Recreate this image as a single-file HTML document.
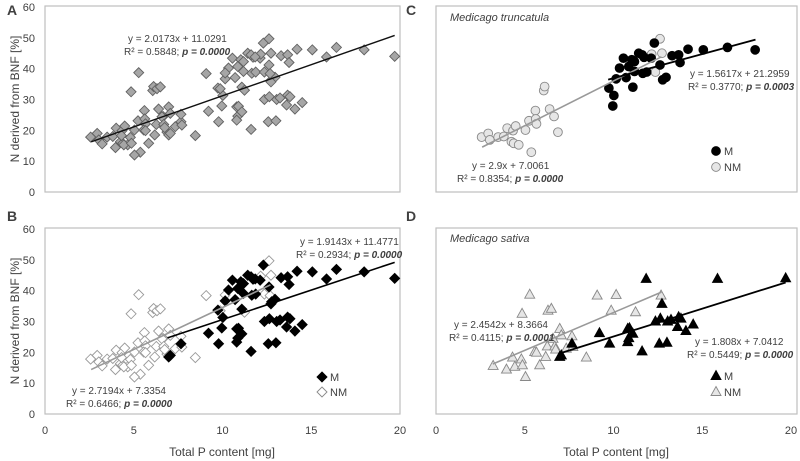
<!DOCTYPE html>
<html><head><meta charset="utf-8"><style>
body{margin:0;background:#fff;width:800px;height:461px;overflow:hidden}
svg{display:block;font-family:"Liberation Sans",sans-serif}
text{fill:#404040}
</style></head><body>
<svg id="chart" width="800" height="461" viewBox="0 0 800 461" xmlns="http://www.w3.org/2000/svg"></svg>
<script>
// Medicago truncatula
const mtM_x=[9.74,10.02,9.96,10.56,10.34,10.71,11.09,11.03,11.18,10.86,11.42,11.72,11.65,11.87,12.30,12.62,12.77,12.96,13.3,13.67,13.75,14.2,15.06,16.42,17.98,10.15,11.18,11.61,12.12];
const mtM_y=[33.7,31.3,27.9,43.4,40.2,37.1,34.0,42.9,42.3,40.7,45.0,43.7,38.5,38.9,48.3,41.2,36.4,37.2,44.2,44.5,42.0,46.3,46.1,46.9,46.1,36.7,39.1,44.5,43.4];
const mtNM_x=[2.57,2.94,3.03,3.5,3.82,4.01,4.34,4.49,4.25,4.38,4.66,5.04,5.24,5.37,5.6,5.62,5.66,6.07,6.12,6.4,6.65,6.87,12.15,12.62,12.73,12.36];
const mtNM_y=[17.8,19.0,16.9,17.8,18.0,20.7,19.9,21.4,16.3,15.8,15.3,20.1,23.1,12.9,26.4,23.7,22.1,32.9,34.2,26.9,24.5,19.4,44.7,49.7,45.0,38.9];
// Medicago sativa
const msM_x=[11.84,15.86,19.7,12.73,12.36,12.64,13.05,13.24,13.67,13.8,13.61,14.08,14.49,9.21,9.78,10.8,10.9,10.86,11.09,10.8,11.61,12.58,13.01,7.66,6.97,7.06];
const msM_y=[43.8,43.8,44.0,35.7,30.0,30.9,30.0,30.5,31.4,30.9,28.2,26.9,29.0,26.2,22.8,27.6,27.8,24.6,26.0,23.3,20.3,22.8,23.1,22.8,18.5,19.0];
const msNM_x=[5.28,4.85,5.04,3.22,3.97,4.44,4.31,4.81,4.87,5.56,5.66,5.84,6.18,6.27,6.31,6.5,6.59,6.69,6.74,6.97,7.06,7.66,7.34,7.71,8.47,9.08,10.15,9.87,11.24,12.68];
const msNM_y=[38.7,32.5,12.0,15.6,14.4,15.3,18.3,17.7,15.8,20.1,19.9,15.8,18.5,21.9,33.5,34.1,24.4,21.9,20.9,27.6,25.5,25.2,21.2,21.7,18.3,38.4,38.6,33.5,33.0,38.4];
// regression lines [slope, intercept, xStart, xEnd]
const fitA=[2.0173,11.0291,2.6,19.7];
const fitBM=[1.9143,11.4771,6.9,19.7];
const fitBNM=[2.7194,7.3354,2.6,12.7];
const fitCM=[1.5617,21.2959,9.7,18.0];
const fitCNM=[2.9,7.0061,2.6,12.7];
const fitDM=[1.808,7.0412,7.0,19.7];
const fitDNM=[2.4542,8.3664,3.2,12.7];
const yTicks=[0,10,20,30,40,50,60];
const xTicks=[0,5,10,15,20];

const NS="http://www.w3.org/2000/svg";
const svg=document.getElementById('chart');
function mk(tag,attrs,parent,txt){const e=document.createElementNS(NS,tag);for(const k in attrs)e.setAttribute(k,attrs[k]);if(txt!==undefined)e.textContent=txt;(parent||svg).appendChild(e);return e;}

const panels={
 A:{l:45,r:400,t:6,b:192},
 B:{l:45,r:400,t:228,b:414},
 C:{l:436,r:797,t:6,b:192},
 D:{l:436,r:797,t:228,b:414}
};
function sx(p,v){return p.l+v/20*355;}
function sy(p,v){return p.b-v/60*(p.b-p.t-1);}

function frame(p,name,showY,showX){
  const g=mk('g',{});
  
  
  const r=mk('rect',{x:p.l,y:p.t,width:p.r-p.l,height:p.b-p.t,fill:'#fff',stroke:'#bfbfbf','stroke-width':1.2},g);
  
  
  if(showY){yTicks.forEach(v=>{const t=mk('text',{x:p.l-10,y:sy(p,v)+4,'text-anchor':'end','font-size':11},g,String(v));
    
    });}
  if(showX){xTicks.forEach(v=>{const t=mk('text',{x:sx(p,v),y:434,'text-anchor':'middle','font-size':11},g,String(v));
    
    });}
  return g;
}
function line(p,g,f,color,w){
  const l=mk('line',{x1:sx(p,f[2]),y1:sy(p,f[0]*f[2]+f[1]),x2:sx(p,f[3]),y2:sy(p,f[0]*f[3]+f[1]),stroke:color,'stroke-width':w||1.6},g);
  
  
}
function marker(g,shape,x,y,fill,stroke){
  let e;
  if(shape==='d') e=mk('polygon',{points:`${x},${y-5} ${x+5},${y} ${x},${y+5} ${x-5},${y}`,fill:fill,stroke:stroke,'stroke-width':0.9},g);
  else if(shape==='c') e=mk('circle',{cx:x,cy:y,r:4.4,fill:fill,stroke:stroke,'stroke-width':0.9},g);
  else e=mk('polygon',{points:`${x},${y-5.5} ${x+5},${y+3.5} ${x-5},${y+3.5}`,fill:fill,stroke:stroke,'stroke-width':0.9},g);
  return e;
}
function points(p,g,xs,ys,shape,fill,stroke,nm){
  xs.forEach((x,i)=>{const e=marker(g,shape,sx(p,x),sy(p,ys[i]),fill,stroke);
    
    });
}
function txt(g,x,y,s,opts,nm){
  const t=mk('text',Object.assign({x:x,y:y,'font-size':10},opts||{}),g);
  t.innerHTML=s;
  
  
  return t;
}
function legend(g,x,y,shape,fill,stroke,label,nm){
  const m=marker(g,shape,x,y-4,fill,stroke);
  
  
  txt(g,x+8,y,label,{'font-size':11},nm);
}

// Panel A
let p=panels.A,g=frame(p,'panel-a',true,false);
points(p,g,mtM_x.concat(mtNM_x,msM_x,msNM_x),mtM_y.concat(mtNM_y,msM_y,msNM_y),'d','#a6a6a6','#606060','point-all');
line(p,g,fitA,'#111',1.4);
txt(g,128,42,'y = 2.0173x + 11.0291',{},'equation-a');
txt(g,124,55,'R² = 0.5848; <tspan font-weight="bold" font-style="italic">p = 0.0000</tspan>',{},'r2-a');

// Panel B
p=panels.B;g=frame(p,'panel-b',true,true);
points(p,g,mtNM_x.concat(msNM_x),mtNM_y.concat(msNM_y),'d','#fff','#999','point-nm');
points(p,g,mtM_x.concat(msM_x),mtM_y.concat(msM_y),'d','#000','#000','point-m');
line(p,g,fitBNM,'#999',1.6);
line(p,g,fitBM,'#000',1.6);
txt(g,300,245,'y = 1.9143x + 11.4771',{},'equation-b-m');
txt(g,296,258,'R² = 0.2934; <tspan font-weight="bold" font-style="italic">p = 0.0000</tspan>',{},'r2-b-m');
txt(g,72,394,'y = 2.7194x + 7.3354',{},'equation-b-nm');
txt(g,66,407,'R² = 0.6466; <tspan font-weight="bold" font-style="italic">p = 0.0000</tspan>',{},'r2-b-nm');
legend(g,322,381,'d','#000','#000','M','legend-m-b');
legend(g,322,396,'d','#fff','#888','NM','legend-nm-b');

// Panel C
p=panels.C;g=frame(p,'panel-c',false,false);
points(p,g,mtNM_x,mtNM_y,'c','#e6e6e6','#888','point-nm');
points(p,g,mtM_x,mtM_y,'c','#000','#000','point-m');
line(p,g,fitCNM,'#999',1.6);
line(p,g,fitCM,'#000',1.8);
txt(g,450,21,'Medicago truncatula',{'font-style':'italic','font-size':11},'species-title-c');
txt(g,690,77,'y = 1.5617x + 21.2959',{},'equation-c-m');
txt(g,688,90,'R² = 0.3770; <tspan font-weight="bold" font-style="italic">p = 0.0003</tspan>',{},'r2-c-m');
txt(g,472,169,'y = 2.9x + 7.0061',{},'equation-c-nm');
txt(g,457,182,'R² = 0.8354; <tspan font-weight="bold" font-style="italic">p = 0.0000</tspan>',{},'r2-c-nm');
legend(g,716,155,'c','#000','#000','M','legend-m-c');
legend(g,716,171,'c','#e6e6e6','#888','NM','legend-nm-c');

// Panel D
p=panels.D;g=frame(p,'panel-d',false,true);
points(p,g,msNM_x,msNM_y,'t','#e6e6e6','#888','point-nm');
points(p,g,msM_x,msM_y,'t','#000','#000','point-m');
line(p,g,fitDNM,'#999',1.6);
line(p,g,fitDM,'#000',1.8);
txt(g,450,242,'Medicago sativa',{'font-style':'italic','font-size':11},'species-title-d');
txt(g,454,328,'y = 2.4542x + 8.3664',{},'equation-d-nm');
txt(g,449,341,'R² = 0.4115; <tspan font-weight="bold" font-style="italic">p = 0.0001</tspan>',{},'r2-d-nm');
txt(g,695,345,'y = 1.808x + 7.0412',{},'equation-d-m');
txt(g,687,358,'R² = 0.5449; <tspan font-weight="bold" font-style="italic">p = 0.0000</tspan>',{},'r2-d-m');
legend(g,716,380,'t','#000','#000','M','legend-m-d');
legend(g,716,396,'t','#e6e6e6','#888','NM','legend-nm-d');

// Panel letters & axis titles
[['A',7,15],['B',7,221],['C',406,15],['D',406,221]].forEach(a=>{
  const t=txt(svg,a[1],a[2],a[0],{'font-size':14,'font-weight':'bold',fill:'#000'},'panel-label-'+a[0].toLowerCase());
});
txt(svg,19,99,'N derived from BNF [%]',{'font-size':12,'text-anchor':'middle',transform:'rotate(-90 19 99)'},'y-axis-title-top');
txt(svg,19,321,'N derived from BNF [%]',{'font-size':12,'text-anchor':'middle',transform:'rotate(-90 19 321)'},'y-axis-title-bottom');
txt(svg,222,456,'Total P content [mg]',{'font-size':12,'text-anchor':'middle'},'x-axis-title-left');
txt(svg,616,456,'Total P content [mg]',{'font-size':12,'text-anchor':'middle'},'x-axis-title-right');
</script>
</body></html>
